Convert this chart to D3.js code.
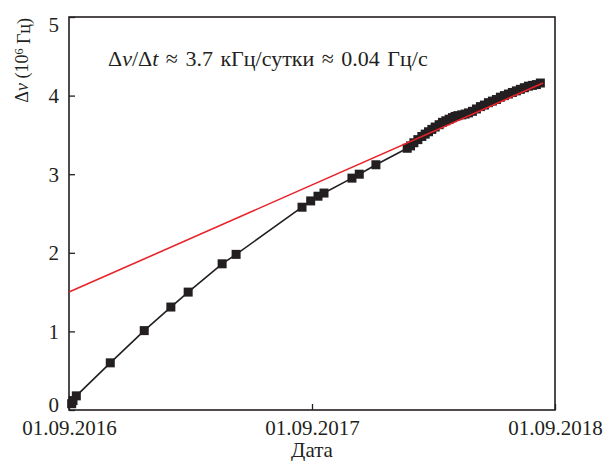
<!DOCTYPE html>
<html>
<head>
<meta charset="utf-8">
<script src="https://cdn.jsdelivr.net/npm/d3@7"></script>
<style>
  body { margin: 0; background: #fff; }
  svg text, svg tspan { font-family: "Liberation Serif", "Times New Roman", serif !important; }
</style>
</head>
<body>
<script>
// days since 01.09.2016 and frequency drift (10^6 Hz)
var days = [4, 6, 11, 62, 113, 153, 179, 230, 251, 350, 363, 374, 383, 425, 436, 461,
  508, 513, 518, 524, 530, 535, 540, 545, 550, 556, 561, 566, 571, 576, 580, 584, 590,
  595, 600, 606, 612, 618, 624, 630, 636, 642, 648, 654, 660, 666, 672, 678, 684, 690,
  696, 702, 708];
var dnu = [0.08, 0.12, 0.18, 0.60, 1.01, 1.31, 1.50, 1.86, 1.98, 2.58, 2.66, 2.72, 2.76, 2.95, 3.00, 3.12,
  3.33, 3.36, 3.40, 3.44, 3.48, 3.51, 3.54, 3.57, 3.60, 3.63, 3.66, 3.68, 3.70, 3.72, 3.735, 3.745, 3.755,
  3.765, 3.78, 3.80, 3.83, 3.86, 3.88, 3.91, 3.93, 3.95, 3.98, 4.00, 4.02, 4.04, 4.06, 4.08, 4.10, 4.12,
  4.13, 4.14, 4.16];

// linear fit: 1.5e6 Hz at start, ~3.7 kHz per day
var fitStart = 1.50;
var fitRate = 0.003736;
var fitDays = [0, 712];

var xTicks = ["2016-09-01", "2017-09-01", "2018-09-01"];
var yTicks = [0, 1, 2, 3, 4, 5];

var ink = "#231f20";

var width = 606, height = 461;
var margin = {top: 17, right: 51, bottom: 51, left: 69};

var svg = d3.select("body").append("svg")
  .attr("width", width)
  .attr("height", height);

var t0 = new Date(2016, 8, 1);
var toDate = function(d) { return d3.timeDay.offset(t0, d); };

var x = d3.scaleTime()
  .domain([new Date(2016, 8, 1), new Date(2018, 8, 1)])
  .range([margin.left, width - margin.right]);
var y = d3.scaleLinear()
  .domain([0, 5])
  .range([height - margin.bottom, margin.top]);

var fmt = d3.timeFormat("%d.%m.%Y");

// x axis with inward ticks
var xAxis = svg.append("g")
  .attr("transform", "translate(0," + (height - margin.bottom) + ")")
  .call(d3.axisBottom(x)
    .tickValues(xTicks.map(function(s) { return d3.timeParse("%Y-%m-%d")(s); }))
    .tickFormat(fmt)
    .tickSizeInner(-6)
    .tickSizeOuter(0)
    .tickPadding(9));
xAxis.attr("font-family", null).attr("font-size", null);
xAxis.select(".domain").remove();
xAxis.selectAll("line").attr("stroke", ink).attr("stroke-width", 1.3);
xAxis.selectAll("text")
  .style("font-size", "21px")
  .attr("fill", ink)
  .attr("dy", "0.75em");

// y axis with inward ticks
var yAxis = svg.append("g")
  .attr("transform", "translate(" + margin.left + ",0)")
  .call(d3.axisLeft(y)
    .tickValues(yTicks)
    .tickFormat(d3.format("d"))
    .tickSizeInner(-6)
    .tickSizeOuter(0)
    .tickPadding(10));
yAxis.attr("font-family", null).attr("font-size", null);
yAxis.select(".domain").remove();
yAxis.selectAll("line").attr("stroke", ink).attr("stroke-width", 1.3);
yAxis.selectAll("text")
  .style("font-size", "21px")
  .attr("fill", ink)
  .attr("dy", function(d) { return d === 5 ? "0.68em" : d === 0 ? "0.08em" : "0.33em"; });

// frame
svg.append("rect")
  .attr("x", x.range()[0])
  .attr("y", y.range()[1])
  .attr("width", x.range()[1] - x.range()[0])
  .attr("height", y.range()[0] - y.range()[1])
  .attr("fill", "none")
  .attr("stroke", ink)
  .attr("stroke-width", 1.6);

// data line + square markers
var pts = days.map(function(d, i) { return {date: toDate(d), v: dnu[i]}; });
svg.append("path")
  .datum(pts)
  .attr("fill", "none")
  .attr("stroke", ink)
  .attr("stroke-width", 1.6)
  .attr("d", d3.line().x(function(d) { return x(d.date); }).y(function(d) { return y(d.v); }));

var sq = 9;
svg.selectAll("rect.pt")
  .data(pts)
  .enter()
  .append("rect")
  .attr("class", "pt")
  .attr("x", function(d) { return x(d.date) - sq / 2; })
  .attr("y", function(d) { return y(d.v) - sq / 2; })
  .attr("width", sq)
  .attr("height", sq)
  .attr("fill", ink);

// red fit line
svg.append("path")
  .datum(fitDays)
  .attr("fill", "none")
  .attr("stroke", "#e8232a")
  .attr("stroke-width", 1.6)
  .attr("d", d3.line()
    .x(function(d) { return x(toDate(d)); })
    .y(function(d) { return y(fitStart + fitRate * d); }));

// annotation
var ann = svg.append("text")
  .attr("x", 108)
  .attr("y", 66)
  .attr("fill", ink)
  .style("font-size", "22px")
  .style("word-spacing", "2px");
ann.append("tspan").text("\u0394");
ann.append("tspan").style("font-style", "italic").text("\u03BD");
ann.append("tspan").text("/\u0394");
ann.append("tspan").style("font-style", "italic").text("t");
ann.append("tspan").text(" \u2248 3.7 кГц/сутки \u2248 0.04 Гц/с");

// y label
var yl = svg.append("text")
  .attr("transform", "translate(28,18) rotate(-90)")
  .attr("text-anchor", "end")
  .attr("fill", ink)
  .style("font-size", "18px");
yl.append("tspan").text("\u0394");
yl.append("tspan").style("font-style", "italic").text("\u03BD");
yl.append("tspan").text(" (10");
yl.append("tspan").attr("dy", "-0.4em").style("font-size", "12px").text("6");
yl.append("tspan").attr("dy", "0.4em").text(" Гц)");

// x label
svg.append("text")
  .attr("x", x(new Date(2017, 8, 1)))
  .attr("y", 457)
  .attr("text-anchor", "middle")
  .attr("fill", ink)
  .style("font-size", "21px")
  .text("Дата");
</script>
</body>
</html>
